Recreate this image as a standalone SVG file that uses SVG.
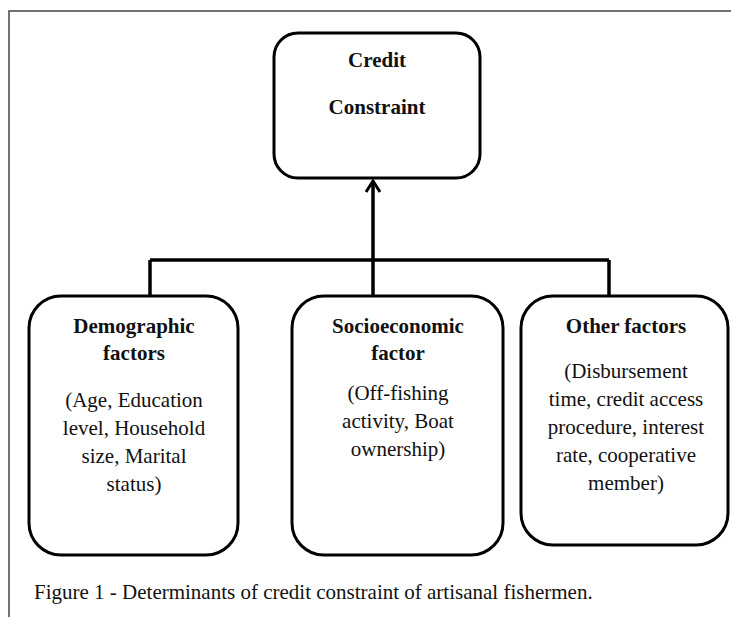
<svg xmlns="http://www.w3.org/2000/svg" width="731" height="617" viewBox="0 0 731 617">
<style>
.box{fill:#fff;stroke:#000;stroke-width:3}
.t{font-family:"Liberation Serif","Times New Roman",serif;font-size:21px;fill:#111;text-anchor:middle}
.b{font-weight:bold}
.c{font-family:"Liberation Serif","Times New Roman",serif;font-size:21px;fill:#111}
.ln{stroke:#000;stroke-width:3.5;fill:none}
.ah{stroke:#000;stroke-width:3;fill:none;stroke-linejoin:miter}
</style>
<rect width="731" height="617" fill="#fff"/>
<path d="M9,617 L9,11 L731,11" fill="none" stroke="#444" stroke-width="1.5"/>
<g id="connectors">
<line class="ln" x1="150" y1="260" x2="609" y2="260"/>
<line class="ln" x1="150" y1="260" x2="150" y2="296"/>
<line class="ln" x1="373" y1="260" x2="373" y2="296"/>
<line class="ln" x1="609" y1="260" x2="609" y2="296"/>
<line class="ln" x1="373" y1="260" x2="373" y2="182"/>
<path class="ah" d="M366,192 L373,181 L380,192"/>
</g>
<g id="credit">
<rect class="box" x="274" y="33" width="206" height="145" rx="24"/>
<text class="t b" x="377" y="67">Credit</text>
<text class="t b" x="377" y="114">Constraint</text>
</g>
<g id="demographic">
<rect class="box" x="29" y="296" width="209" height="259" rx="32"/>
<text class="t b" x="134" y="333">Demographic</text>
<text class="t b" x="134" y="360">factors</text>
<text class="t" x="134" y="407">(Age, Education</text>
<text class="t" x="134" y="435">level, Household</text>
<text class="t" x="134" y="463">size, Marital</text>
<text class="t" x="134" y="491">status)</text>
</g>
<g id="socioeconomic">
<rect class="box" x="292" y="296" width="211" height="259" rx="32"/>
<text class="t b" x="398" y="333">Socioeconomic</text>
<text class="t b" x="398" y="360">factor</text>
<text class="t" x="398" y="400">(Off-fishing</text>
<text class="t" x="398" y="428">activity, Boat</text>
<text class="t" x="398" y="456">ownership)</text>
</g>
<g id="other">
<rect class="box" x="521" y="296" width="207" height="249" rx="32"/>
<text class="t b" x="626" y="333">Other factors</text>
<text class="t" x="626" y="378">(Disbursement</text>
<text class="t" x="626" y="406">time, credit access</text>
<text class="t" x="626" y="434">procedure, interest</text>
<text class="t" x="626" y="462">rate, cooperative</text>
<text class="t" x="626" y="490">member)</text>
</g>
<text class="c" x="34" y="599">Figure 1 - Determinants of credit constraint of artisanal fishermen.</text>
</svg>
